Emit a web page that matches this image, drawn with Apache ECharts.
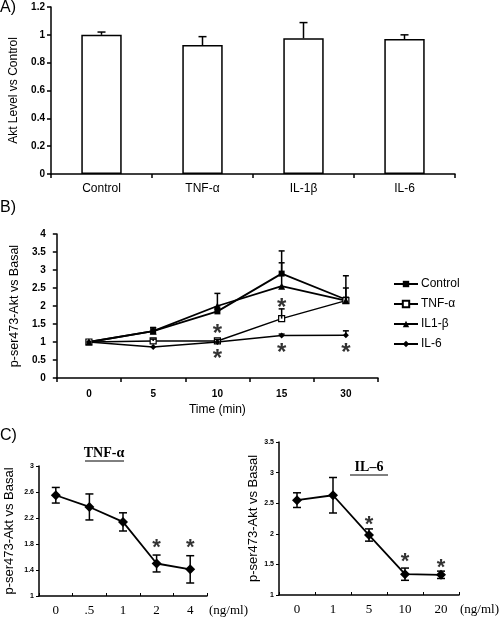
<!DOCTYPE html>
<html>
<head>
<meta charset="utf-8">
<script src="https://cdn.jsdelivr.net/npm/echarts@6/dist/echarts.min.js"></script>
<style>html,body{margin:0;padding:0;background:#fff}#c{width:500px;height:619px}</style>
</head>
<body>
<div id="c"></div>
<script>
// ---- Panel A data ----
const catsA = ['Control', 'TNF-\u03b1', 'IL-1\u03b2', 'IL-6'];
const aktMean = [1.0, 0.927, 0.975, 0.97];
const aktErr = [0.02, 0.06, 0.113, 0.03];

// ---- Panel B data ----
const timeCats = ['0', '5', '10', '15', '30'];
const ctrlB = [1.0, 1.3, 1.85, 2.9, 2.18];
const ctrlBErr = [0, 0.1, 0.12, 0.63, 0.66];
const tnfB = [1.0, 1.03, 1.03, 1.65, 2.15];
const tnfBErr = [0, 0.05, 0.04, 0.27, 0];
const il1bB = [1.0, 1.3, 2.0, 2.55, 2.15];
const il1bBErr = [0, 0.1, 0.35, 0.65, 0.35];
const il6B = [1.0, 0.86, 1.0, 1.18, 1.19];
const il6BErr = [0, 0, 0, 0.04, 0.12];
const starsB = [['10', 1.37], ['10', 0.69], ['15', 2.1], ['15', 0.86], ['30', 0.86]];

// ---- Panel C data ----
const dosesTNF = ['0', '.5', '1', '2', '4'];
const tnfDose = [2.55, 2.37, 2.14, 1.5, 1.41];
const tnfDoseErr = [0.12, 0.2, 0.14, 0.13, 0.21];
const starsTNF = [['2', 1.82], ['4', 1.82]];
const dosesIL6 = ['0', '1', '5', '10', '20'];
const il6Dose = [2.55, 2.63, 1.98, 1.34, 1.33];
const il6DoseErr = [0.12, 0.29, 0.1, 0.1, 0.06];
const starsIL6 = [['5', 2.23], ['10', 1.63], ['20', 1.52]];

const SANS = 'Liberation Sans';
const SERIF = 'Liberation Serif';

function errSeries(mean, err, both, xi, capW, lw) {
  return {
    type: 'custom', xAxisIndex: xi, yAxisIndex: xi, z: 5, silent: true,
    data: mean.map((m, i) => [i, m, err[i]]),
    renderItem: function (params, api) {
      const x = api.value(0), m = api.value(1), e = api.value(2);
      if (!e) return null;
      const top = api.coord([x, m + e]);
      const bot = api.coord([x, both ? m - e : m]);
      const st = { stroke: '#000', lineWidth: lw };
      const ch = [
        { type: 'line', shape: { x1: top[0], y1: top[1], x2: bot[0], y2: bot[1] }, style: st },
        { type: 'line', shape: { x1: top[0] - capW, y1: top[1], x2: top[0] + capW, y2: top[1] }, style: st }
      ];
      if (both) ch.push({ type: 'line', shape: { x1: bot[0] - capW, y1: bot[1], x2: bot[0] + capW, y2: bot[1] }, style: st });
      return { type: 'group', children: ch };
    }
  };
}

function starSeries(pts, xi, fs, dy) {
  return {
    type: 'scatter', xAxisIndex: xi, yAxisIndex: xi, symbolSize: 1, silent: true, z: 6,
    itemStyle: { color: 'rgba(0,0,0,0)' },
    data: pts,
    label: { show: true, formatter: '*', position: 'inside', fontSize: fs, fontWeight: 'bold', fontFamily: SANS, color: '#000', offset: [0, dy] }
  };
}

const axLine = { show: true, lineStyle: { color: '#000', width: 1.5 } };
const tickOut = { show: true, length: 4, lineStyle: { color: '#000', width: 1.5 } };

const chart = echarts.init(document.getElementById('c'), null, { renderer: 'canvas' });
chart.setOption({
  animation: false,
  backgroundColor: '#fff',
  textStyle: { fontFamily: SANS },
  grid: [
    { left: 50, top: 7, width: 405, height: 167 },
    { left: 47, top: 234, width: 331, height: 144 },
    { left: 39, top: 466, width: 168, height: 130 },
    { left: 279, top: 442, width: 180, height: 153 }
  ],
  xAxis: [
    { gridIndex: 0, type: 'category', data: catsA, axisLine: axLine, axisTick: tickOut,
      axisLabel: { color: '#000', fontSize: 12, margin: 9, fontFamily: SANS } },
    { gridIndex: 1, type: 'category', data: timeCats, axisLine: axLine, axisTick: tickOut,
      axisLabel: { color: '#000', fontSize: 10, fontWeight: 'bold', margin: 11 },
      name: 'Time (min)', nameLocation: 'middle', nameGap: 26,
      nameTextStyle: { color: '#000', fontSize: 12, fontFamily: SANS } },
    { gridIndex: 2, type: 'category', data: dosesTNF, axisLine: axLine,
      axisTick: { show: true, inside: true, length: 3, lineStyle: { color: '#000', width: 1 } },
      axisLabel: { color: '#000', fontSize: 13, fontFamily: SERIF, margin: 8 },
      name: '(ng/ml)', nameLocation: 'end', nameGap: 2,
      nameTextStyle: { color: '#000', fontSize: 13, fontFamily: SERIF, align: 'left', verticalAlign: 'top', padding: [8, 0, 0, 0] } },
    { gridIndex: 3, type: 'category', data: dosesIL6, axisLine: axLine,
      axisTick: { show: true, inside: true, length: 3, lineStyle: { color: '#000', width: 1 } },
      axisLabel: { color: '#000', fontSize: 13, fontFamily: SERIF, margin: 8 },
      name: '(ng/ml)', nameLocation: 'end', nameGap: 1,
      nameTextStyle: { color: '#000', fontSize: 13, fontFamily: SERIF, align: 'left', verticalAlign: 'top', padding: [8, 0, 0, 0] } }
  ],
  yAxis: [
    { gridIndex: 0, type: 'value', min: 0, max: 1.2, interval: 0.2, splitLine: { show: false },
      axisLine: axLine, axisTick: tickOut,
      axisLabel: { color: '#000', fontSize: 10, fontWeight: 'bold', margin: 6 },
      name: 'Akt Level vs Control', nameLocation: 'middle', nameGap: 31,
      nameTextStyle: { color: '#000', fontSize: 12, fontFamily: SANS } },
    { gridIndex: 1, type: 'value', min: 0, max: 4, interval: 0.5, splitLine: { show: false },
      axisLine: axLine, axisTick: tickOut,
      axisLabel: { color: '#000', fontSize: 10, fontWeight: 'bold', margin: 11 },
      name: 'p-ser473-Akt vs Basal', nameLocation: 'middle', nameGap: 31,
      nameTextStyle: { color: '#000', fontSize: 12.5, fontFamily: SANS } },
    { gridIndex: 2, type: 'value', min: 1, max: 3, interval: 0.4, splitLine: { show: false },
      axisLine: axLine, axisTick: { show: true, length: 3, lineStyle: { color: '#000', width: 1 } },
      axisLabel: { color: '#000', fontSize: 7, fontWeight: 'bold', margin: 5 },
      name: 'p-ser473-Akt vs Basal', nameLocation: 'middle', nameGap: 23,
      nameTextStyle: { color: '#000', fontSize: 13, fontFamily: SANS } },
    { gridIndex: 3, type: 'value', min: 1, max: 3.5, interval: 0.5, splitLine: { show: false },
      axisLine: axLine, axisTick: { show: true, length: 3, lineStyle: { color: '#000', width: 1 } },
      axisLabel: { color: '#000', fontSize: 7, fontWeight: 'bold', margin: 5 },
      name: 'p-ser473-Akt vs Basal', nameLocation: 'middle', nameGap: 16,
      nameTextStyle: { color: '#000', fontSize: 13, fontFamily: SANS } }
  ],
  legend: {
    left: 388, top: 273, orient: 'vertical', itemWidth: 24, itemHeight: 8, itemGap: 8,
    data: ['Control', 'TNF-\u03b1', 'IL1-\u03b2', 'IL-6'],
    textStyle: { color: '#000', fontSize: 12, fontFamily: SANS, padding: [0, 0, 0, -2] }
  },
  graphic: [
    { type: 'text', left: 0, top: 0, style: { text: 'A)', fontSize: 16, fontFamily: SANS, fill: '#000' } },
    { type: 'text', left: 0, top: 200, style: { text: 'B)', fontSize: 16, fontFamily: SANS, fill: '#000' } },
    { type: 'text', left: 0, top: 428, style: { text: 'C)', fontSize: 16, fontFamily: SANS, fill: '#000' } },
    { type: 'text', x: 104, y: 453, style: { text: 'TNF-\u03b1', fontSize: 14, fontWeight: 'bold', fontFamily: SERIF, fill: '#000', align: 'center', verticalAlign: 'middle' } },
    { type: 'line', shape: { x1: 85, y1: 461, x2: 124, y2: 461 }, style: { stroke: '#000', lineWidth: 1 } },
    { type: 'text', x: 369, y: 467, style: { text: 'IL\u20136', fontSize: 14, fontWeight: 'bold', fontFamily: SERIF, fill: '#000', align: 'center', verticalAlign: 'middle' } },
    { type: 'line', shape: { x1: 350, y1: 475, x2: 388, y2: 475 }, style: { stroke: '#000', lineWidth: 1 } }
  ],
  series: [
    { type: 'bar', xAxisIndex: 0, yAxisIndex: 0, data: aktMean, barWidth: '40%',
      itemStyle: { color: '#fff', borderColor: '#000', borderWidth: 1.5 } },
    errSeries(aktMean, aktErr, false, 0, 4, 1.5),

    { name: 'Control', type: 'line', xAxisIndex: 1, yAxisIndex: 1, data: ctrlB, symbol: 'rect', symbolSize: 6,
      lineStyle: { color: '#000', width: 1.8 }, itemStyle: { color: '#000' }, z: 4 },
    { name: 'TNF-\u03b1', type: 'line', xAxisIndex: 1, yAxisIndex: 1, data: tnfB, symbol: 'rect', symbolSize: 6,
      lineStyle: { color: '#000', width: 1.5 }, itemStyle: { color: '#fff', borderColor: '#000', borderWidth: 1.2 }, z: 4 },
    { name: 'IL1-\u03b2', type: 'line', xAxisIndex: 1, yAxisIndex: 1, data: il1bB, symbol: 'triangle', symbolSize: 7,
      lineStyle: { color: '#000', width: 1.8 }, itemStyle: { color: '#000' }, z: 4 },
    { name: 'IL-6', type: 'line', xAxisIndex: 1, yAxisIndex: 1, data: il6B, symbol: 'diamond', symbolSize: 6,
      lineStyle: { color: '#000', width: 1.5 }, itemStyle: { color: '#000' }, z: 4 },
    errSeries(ctrlB, ctrlBErr, false, 1, 3, 1.5),
    errSeries(tnfB, tnfBErr, false, 1, 3, 1.5),
    errSeries(il1bB, il1bBErr, false, 1, 3, 1.5),
    errSeries(il6B, il6BErr, false, 1, 3, 1.5),
    starSeries(starsB, 1, 24, 6),

    { type: 'line', xAxisIndex: 2, yAxisIndex: 2, data: tnfDose, symbol: 'diamond', symbolSize: 10,
      lineStyle: { color: '#000', width: 1.8 }, itemStyle: { color: '#000' } },
    errSeries(tnfDose, tnfDoseErr, true, 2, 4, 1.5),
    starSeries(starsTNF, 2, 22, 5),

    { type: 'line', xAxisIndex: 3, yAxisIndex: 3, data: il6Dose, symbol: 'diamond', symbolSize: 10,
      lineStyle: { color: '#000', width: 1.8 }, itemStyle: { color: '#000' } },
    errSeries(il6Dose, il6DoseErr, true, 3, 4, 1.5),
    starSeries(starsIL6, 3, 22, 5)
  ]
});
</script>
</body>
</html>
